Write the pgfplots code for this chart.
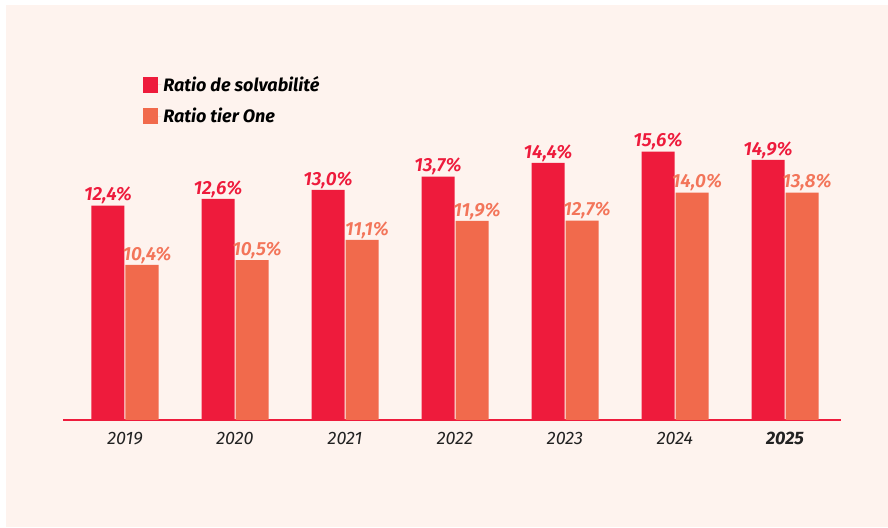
\documentclass[border=0pt]{standalone}
\usepackage{pgfplots}
\usepackage{pgfplotstable}
\usepackage{fontspec}
\setmainfont{Fira Sans}
\IfFontExistsTF{Fira Sans SemiBold Italic}
  {\newfontfamily\valfont{Fira Sans SemiBold Italic}}
  {\newcommand\valfont{\bfseries\itshape}}
\pgfplotsset{compat=1.18}
\definecolor{solvred}{RGB}{238,27,60}
\definecolor{tierorange}{RGB}{241,106,76}
\definecolor{tierlabel}{RGB}{243,117,90}
\definecolor{bgpink}{RGB}{254,243,238}
\definecolor{yeargray}{RGB}{34,34,34}

% bar heights as drawn in the reference, labels as printed
\pgfplotstableread{
x  solv  solvlab  tier  tierlab
0  12.46 12,4     9.01  10,4
1  12.85 12,6     9.30  10,5
2  13.37 13,0     10.47 11,1
3  14.15 13,7     11.57 11,9
4  14.94 14,4     11.59 12,7
5  15.60 15,6     13.22 14,0
6  15.12 14,9     13.22 13,8
}\ratios

\begin{document}
\begin{tikzpicture}[x=1pt,y=1pt]
\fill[white] (0,0) rectangle (888,527);
\fill[bgpink] (6,0) rectangle (888,522);
\begin{axis}[
    at={(63pt,107pt)}, anchor=south west,
    scale only axis,
    width=778pt, height=310pt,
    xmin=-0.5636, xmax=6.509,
    ymin=0, ymax=18.02,
    ybar,
    bar width=33pt,
    axis x line*=bottom,
    axis y line=none,
    axis line style={draw=solvred, line width=1.2pt},
    xtick={0,...,6},
    xticklabels={2019,2020,2021,2022,2023,2024,\textbf{2025}},
    major tick length=0pt,
    xticklabel style={font=\itshape\fontsize{18}{18}\selectfont, text=yeargray, yshift=-9pt},
    point meta=explicit symbolic,
    nodes near coords={\pgfplotspointmeta\%},
    legend style={at={(axis description cs:0.103,1.115)}, anchor=north west,
        draw=none, fill=none, inner sep=0pt, row sep=11pt,
        font=\bfseries\itshape\fontsize{18}{18}\selectfont},
    legend cell align=left,
]
\addplot[fill=solvred, draw=none, bar shift=-17pt,
    legend image code/.code={\fill[solvred] (0pt,-8pt) rectangle (15pt,8pt); \path (0pt,0pt) -- (18pt,0pt);},
    every node near coord/.append style={font=\valfont\fontsize{19}{19}\selectfont, text=solvred, yshift=-2pt}]
    table[x=x, y=solv, meta=solvlab] {\ratios};
\addplot[fill=tierorange, draw=none, bar shift=17pt,
    legend image code/.code={\fill[tierorange] (0pt,-8pt) rectangle (15pt,8pt); \path (0pt,0pt) -- (18pt,0pt);},
    every node near coord/.append style={font=\valfont\fontsize{19}{19}\selectfont, text=tierlabel, xshift=5pt, yshift=-2pt}]
    table[x=x, y=tier, meta=tierlab] {\ratios};
\legend{Ratio de solvabilité, Ratio tier One}
\end{axis}
\end{tikzpicture}
\end{document}
